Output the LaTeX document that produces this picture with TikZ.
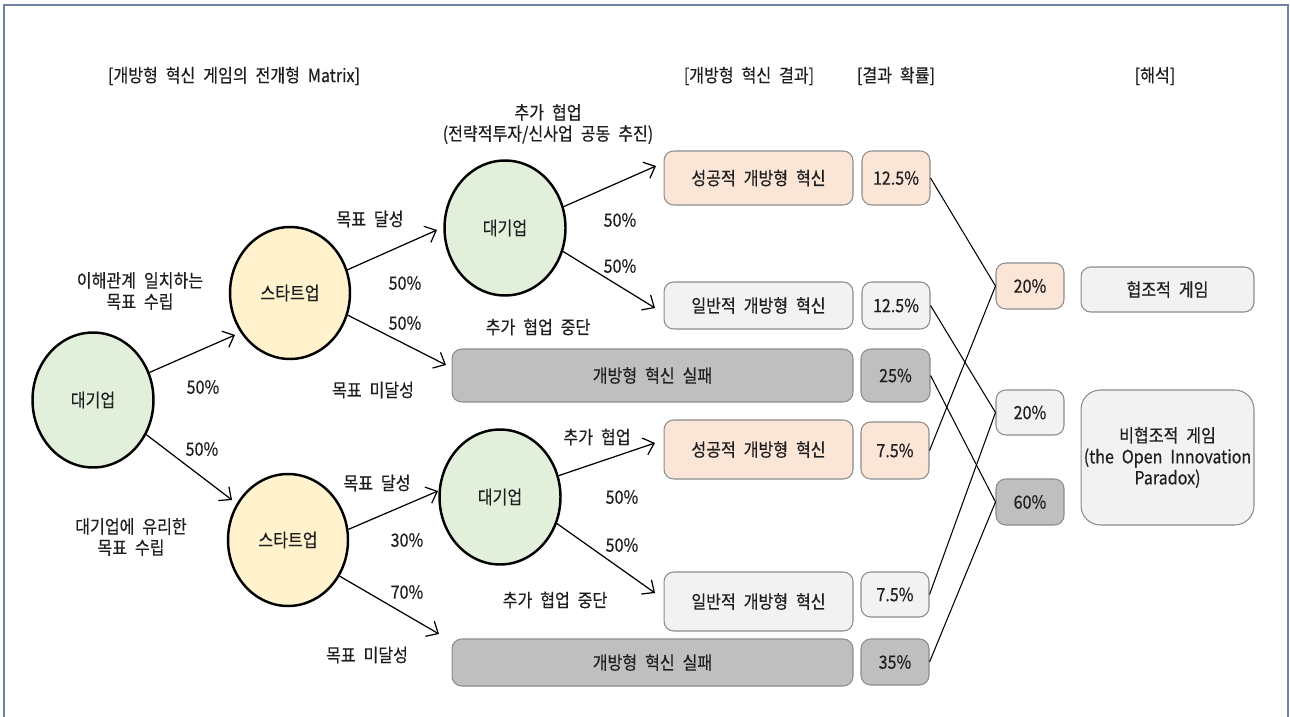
\documentclass[tikz,border=0pt]{standalone}
\usepackage{fontspec}
\setmainfont{Noto Sans CJK KR}[WordSpace=2.2, FakeStretch=0.88, FakeBold=0.35]
\usetikzlibrary{shapes.geometric,arrows.meta}
\definecolor{frameblue}{HTML}{7282A2}
\definecolor{txt}{HTML}{1E1E1E}
\definecolor{bigfill}{HTML}{E2EFDA}
\definecolor{startfill}{HTML}{FFF2CC}
\definecolor{peach}{HTML}{FBE5D6}
\definecolor{light}{HTML}{F2F2F2}
\definecolor{dark}{HTML}{BFBFBF}
\definecolor{boxline}{HTML}{8C8C8C}
\tikzset{
  lbl/.style={font=\fontsize{10.4}{12}\selectfont, text=txt, align=center, inner sep=0pt},
  firm/.style={ellipse, draw=black, line width=1.4pt, fill=bigfill, minimum width=2.42cm, minimum height=2.7cm, lbl},
  startup/.style={ellipse, draw=black, line width=1.4pt, fill=startfill, minimum width=2.4cm, minimum height=2.64cm, lbl},
  res/.style={rectangle, rounded corners=5.5pt, draw=boxline, line width=0.6pt, lbl},
  peachbox/.style={res, fill=peach},
  lightbox/.style={res, fill=light},
  darkbox/.style={res, fill=dark},
  arr/.style={-{Straight Barb[length=5.5pt,width=10pt]}, line width=0.7pt, black},
  link/.style={line width=0.6pt, black},
}
\begin{document}
\begin{tikzpicture}[x=0.02cm,y=-0.02cm]
\useasboundingbox (0,0) rectangle (1290,716);
% open frame
\draw[frameblue, line width=1.2pt] (4,720) -- (4,5) -- (1288,5) -- (1288,720);

% column headers
\node[lbl] (h1) at (234,76) {[개방형 혁신 게임의 전개형 Matrix]};
\node[lbl] (h2) at (749,76) {[개방형 혁신 결과]};
\node[lbl] (h3) at (896,76) {[결과 확률]};
\node[lbl] (h4) at (1155,76) {[해석]};

% decision nodes
\node[firm] (L0) at (93,400) {대기업};
\node[startup] (S1) at (290,293) {스타트업};
\node[startup] (S2) at (288,540) {스타트업};
\node[firm] (B1) at (505,228) {대기업};
\node[firm] (B2) at (500,497) {대기업};

% outcomes
\node[peachbox, minimum width=3.78cm, minimum height=1.08cm] (R1) at (758.5,178) {성공적 개방형 혁신};
\node[lightbox, minimum width=3.78cm, minimum height=0.94cm] (R2) at (758.5,305.5) {일반적 개방형 혁신};
\node[darkbox, minimum width=8.02cm, minimum height=1.06cm] (F1) at (652.5,375.5) {개방형 혁신 실패};
\node[peachbox, minimum width=3.78cm, minimum height=1.18cm] (R3) at (758.5,449.5) {성공적 개방형 혁신};
\node[lightbox, minimum width=3.78cm, minimum height=1.18cm] (R4) at (758.5,601.5) {\raisebox{-0.07cm}{일반적 개방형 혁신}};
\node[darkbox, minimum width=8.02cm, minimum height=0.94cm] (F2) at (652.5,662.5) {개방형 혁신 실패};

% probabilities
\node[peachbox, minimum width=1.36cm, minimum height=1.08cm] (P1) at (896,178) {12.5\%};
\node[lightbox, minimum width=1.36cm, minimum height=0.94cm] (P2) at (896,305.5) {12.5\%};
\node[darkbox, minimum width=1.38cm, minimum height=1.06cm] (P3) at (895.5,375.5) {25\%};
\node[peachbox, minimum width=1.36cm, minimum height=1.14cm] (P4) at (895,450.5) {7.5\%};
\node[lightbox, minimum width=1.36cm, minimum height=0.9cm] (P5) at (895,594.5) {7.5\%};
\node[darkbox, minimum width=1.36cm, minimum height=0.92cm] (P6) at (895,662) {35\%};

% totals
\node[peachbox, minimum width=1.36cm, minimum height=0.92cm] (Q1) at (1030,286) {20\%};
\node[lightbox, minimum width=1.36cm, minimum height=0.9cm] (Q2) at (1030,412.5) {20\%};
\node[darkbox, minimum width=1.36cm, minimum height=0.92cm] (Q3) at (1030,502) {60\%};

% interpretation
\node[lightbox, minimum width=3.46cm, minimum height=0.9cm] (G1) at (1167.5,289.5) {협조적 게임};
\node[lightbox, rounded corners=11pt, minimum width=3.46cm, minimum height=2.7cm] (G2) at (1167.5,457.5)
  {\baselineskip=23.5\dimexpr 0.02cm\relax 비협조적 게임\\(the Open Innovation\\Paradox)};

% arrow tips
\coordinate (tS1) at (235,335);
\coordinate (tS2) at (232,500);
\coordinate (tB1) at (437,230);
\coordinate (tF1) at (446,365);
\coordinate (tB2) at (438,491);
\coordinate (tF2) at (439,634);
\coordinate (tR1) at (656,166);
\coordinate (tR2) at (655,308);
\coordinate (tR3) at (655,443);
\coordinate (tR4) at (655,593);

\draw[arr] (L0.26) -- (tS1);
\draw[arr] (L0.-33) -- (tS2);
\draw[arr] (S1.22) -- (tB1);
\draw[arr] (S1.-21) -- (tF1);
\draw[arr] (S2.10) -- (tB2);
\draw[arr] (S2.-35) -- (tF2);
\draw[arr] (B1.20) -- (tR1);
\draw[arr] (B1.-22) -- (tR2);
\draw[arr] (B2.20) -- (tR3);
\draw[arr] (B2.-25) -- (tR4);

% probability links
\draw[link] (P1.east) -- (Q1.west);
\draw[link] (P4.east) -- (Q1.west);
\draw[link] (P2.east) -- (Q2.west);
\draw[link] (P5.east) -- (Q2.west);
\draw[link] (P3.east) -- (Q3.west);
\draw[link] (P6.east) -- (Q3.west);

% branch labels
\node[lbl] (t1) at (140,291) {\baselineskip=24\dimexpr 0.02cm\relax 이해관계 일치하는\\목표 수립};
\node[lbl] (t2) at (203,387) {50\%};
\node[lbl] (t3) at (202,449) {50\%};
\node[lbl] (t4) at (131,537) {\baselineskip=25\dimexpr 0.02cm\relax 대기업에 유리한\\목표 수립};
\node[lbl] (t5) at (370,219) {목표 달성};
\node[lbl] (t6) at (405,283) {50\%};
\node[lbl] (t7) at (405,323) {50\%};
\node[lbl] (t8) at (373,390) {목표 미달성};
\node[lbl] (t9) at (548,124) {\baselineskip=25\dimexpr 0.02cm\relax 추가 협업\\(전략적투자/신사업 공동 추진)};
\node[lbl] (t10) at (620,220) {50\%};
\node[lbl] (t11) at (620,266) {50\%};
\node[lbl] (t12) at (538,327) {추가 협업 중단};
\node[lbl] (t13) at (377,483) {목표 달성};
\node[lbl] (t14) at (407,540) {30\%};
\node[lbl] (t15) at (407,592) {70\%};
\node[lbl] (t16) at (367,655) {목표 미달성};
\node[lbl] (t17) at (597,437) {추가 협업};
\node[lbl] (t18) at (622,497) {50\%};
\node[lbl] (t19) at (622,545) {50\%};
\node[lbl] (t20) at (555,600) {추가 협업 중단};
\end{tikzpicture}
\end{document}
